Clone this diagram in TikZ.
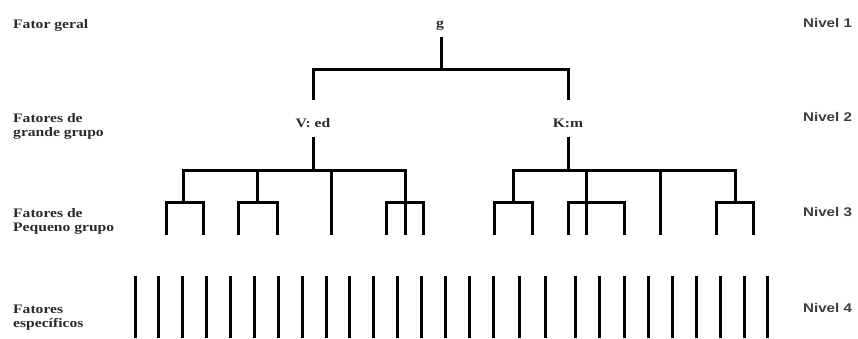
\documentclass[tikz,border=0pt]{standalone}
\usepackage{fontspec}
\setmainfont{Liberation Serif}
\newfontfamily\nivelfont{Liberation Sans}
\definecolor{labelgray}{HTML}{2A2A2A}
\definecolor{nivelgray}{HTML}{3C3C3C}
% labels are set slightly widened
\newcommand{\wide}[1]{\scalebox{1.2}[1]{#1}}
\newcommand{\twolines}[2]{\wide{\begin{tabular}[t]{@{}l@{}}#1\\#2\end{tabular}}}
\begin{document}
\begin{tikzpicture}[x=1pt,y=-1pt,
  branch/.style={line width=3pt,black},
  leftlabel/.style={anchor=base west,inner sep=0pt,text=labelgray,
    font=\bfseries\fontsize{13}{14}\selectfont},
  nivel/.style={anchor=base west,inner sep=0pt,text=nivelgray,
    font=\nivelfont\bfseries\fontsize{12.6}{14}\selectfont},
  factor/.style={anchor=base,inner sep=0pt,text=labelgray,
    font=\bfseries\fontsize{13}{14}\selectfont}]
\useasboundingbox (0,0) rectangle (858,338);

% row labels on the left
\node[leftlabel] (l1) at (13,28) {\wide{Fator geral}};
\node[leftlabel] (l2) at (13,122) {\twolines{Fatores de}{grande grupo}};
\node[leftlabel] (l3) at (13,217) {\twolines{Fatores de}{Pequeno grupo}};
\node[leftlabel] (l4) at (13,313) {\twolines{Fatores}{específicos}};

% level labels on the right
\node[nivel] (n1) at (803,27) {\wide{Nivel 1}};
\node[nivel] (n2) at (803,121) {\wide{Nivel 2}};
\node[nivel] (n3) at (803,216) {\wide{Nivel 3}};
\node[nivel] (n4) at (803,312) {\wide{Nivel 4}};

% factor names
\node[factor] (g) at (440,27) {\wide{g}};
\node[factor] (V) at (313,127) {\wide{V: ed}};
\node[factor] (K) at (568,127) {\wide{K:m}};

% level 1 -> level 2
\coordinate (gtop) at (441,37);
\coordinate (gbar) at (441,69);
\coordinate (vtop) at (313,100);
\coordinate (ktop) at (568,100);
\draw[branch] (gtop) -- (gbar);
\draw[branch] (vtop) |- (gbar) -| (ktop);

% level 2 -> level 3, verbal-educational group
\coordinate (vs) at (313,137);
\coordinate (vb) at (313,170);
\draw[branch] (vs) -- (vb);
\draw[branch] (183,202) |- (vb) -| (405,202);
\draw[branch] (257,170) -- (257,202);
\draw[branch] (331,170) -- (331,235);
\draw[branch] (166,235) |- (183,202) -| (203,235);
\draw[branch] (238,235) |- (257,202) -| (277,235);
\draw[branch] (386,235) |- (405,202) -| (423,235);
\draw[branch] (405,202) -- (405,235);

% level 2 -> level 3, practical-mechanical group
\coordinate (ks) at (568,137);
\coordinate (kb) at (568,170);
\draw[branch] (ks) -- (kb);
\draw[branch] (513,202) |- (kb) -| (735,202);
\draw[branch] (586,170) -- (586,235);
\draw[branch] (660,170) -- (660,235);
\draw[branch] (494,235) |- (513,202) -| (532,235);
\draw[branch] (568,235) |- (586,202) -| (624,235);
\draw[branch] (716,235) |- (735,202) -| (753,235);

% level 4, specific factors
\foreach \x in {135,158,182,206,230,254,278,302,326,349,373,397,421,445,469,493,
                519,545,575,599,624,648,672,696,720,744,767}
  \draw[branch] (\x,276) -- (\x,338);
\end{tikzpicture}
\end{document}
